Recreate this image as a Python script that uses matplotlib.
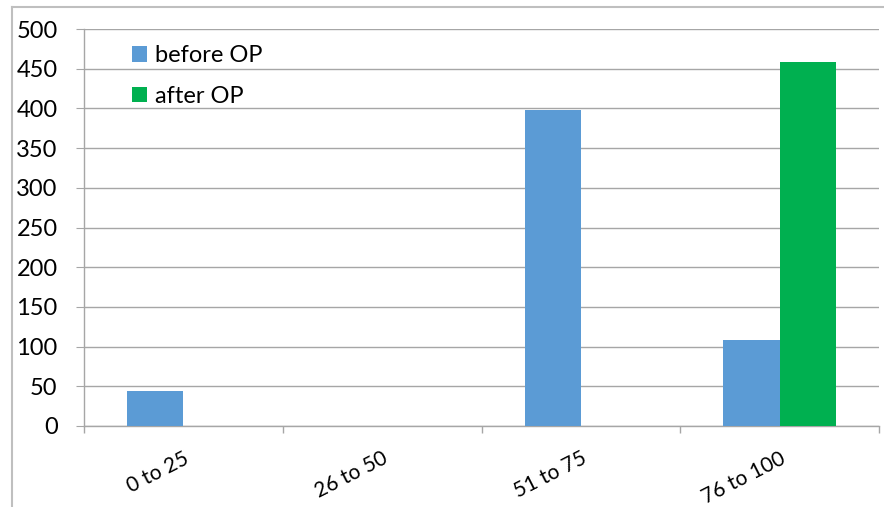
import numpy as np
import matplotlib.pyplot as plt
from matplotlib.lines import Line2D

categories = ["0 to 25", "26 to 50", "51 to 75", "76 to 100"]
before_op = [44, 0, 398, 108]
after_op = [0, 0, 0, 458]
y_ticks = [0, 50, 100, 150, 200, 250, 300, 350, 400, 450, 500]

plt.rcParams['font.family'] = ['Lato', 'DejaVu Sans']

W, H = 884, 507
fig = plt.figure(figsize=(W / 100, H / 100), dpi=100)
ax = fig.add_axes([84 / W, 1 - 426 / H, (879 - 84) / W, (426 - 29) / H])

grid_col = '#a6a6a6'
x = np.arange(len(categories))
bw = 0.283
ax.bar(x - bw / 2, before_op, bw, color='#5b9bd5', label='before OP', zorder=3)
ax.bar(x + bw / 2, after_op, bw, color='#00b050', label='after OP', zorder=3)

ax.set_xlim(-0.5, len(categories) - 0.5)
ax.set_ylim(0, 500)
ax.set_yticks(y_ticks)
ax.yaxis.grid(True, color=grid_col, linewidth=1.0)
ax.set_axisbelow(True)
ax.tick_params(axis='y', length=6, color=grid_col, labelsize=17, pad=13)

ax.set_xticks(x)
ax.set_xticklabels(categories, rotation=27, ha='right', va='top',
                   rotation_mode='anchor', fontsize=15)
ax.set_xticks(np.arange(-0.5, len(categories)), minor=True)
ax.tick_params(axis='x', which='major', length=0, pad=16)
ax.tick_params(axis='x', which='minor', length=5, color=grid_col, width=1.0)

for s in ['top', 'right']:
    ax.spines[s].set_visible(False)
for s in ['left', 'bottom']:
    ax.spines[s].set_color(grid_col)
    ax.spines[s].set_linewidth(1.0)

ax.legend(loc='upper left', bbox_to_anchor=(132 / W, 1 - 45 / H),
          bbox_transform=fig.transFigure, frameon=False, fontsize=17,
          handlelength=0.64, handleheight=0.64, handletextpad=0.35,
          labelspacing=0.84, borderpad=0, borderaxespad=0)

# outer chart border (top and left visible)
fig.add_artist(Line2D([12 / W, 1.0], [1 - 7 / H, 1 - 7 / H],
                      transform=fig.transFigure, color='#bfbfbf', linewidth=1.5))
fig.add_artist(Line2D([12 / W, 12 / W], [0, 1 - 7 / H],
                      transform=fig.transFigure, color='#bfbfbf', linewidth=1.5))

fig.savefig('out.png', dpi=100)
